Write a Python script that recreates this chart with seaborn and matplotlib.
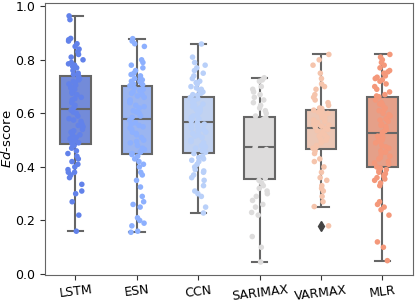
import numpy as np
import pandas as pd
import matplotlib
matplotlib.use("Agg")
import matplotlib.pyplot as plt
import seaborn as sns

# 모델 이름
models = ['LSTM', 'ESN', 'CCN', 'SARIMAX', 'VARMAX', 'MLR']

# 모델별 Ed-score
lstm = [0.16, 0.22, 0.27, 0.30, 0.31, 0.335, 0.36, 0.37, 0.38, 0.38, 0.39, 0.40, 0.41, 0.42, 0.43, 0.44, 0.45, 0.46, 0.47, 0.48,
        0.487, 0.49, 0.50, 0.505, 0.51, 0.52, 0.52, 0.53, 0.535, 0.54, 0.55, 0.555, 0.56, 0.57, 0.575, 0.58, 0.59, 0.60, 0.605, 0.612,
        0.622, 0.63, 0.64, 0.65, 0.655, 0.66, 0.67, 0.675, 0.68, 0.69, 0.695, 0.70, 0.705, 0.71, 0.715, 0.72, 0.725, 0.73, 0.735, 0.74,
        0.745, 0.75, 0.76, 0.77, 0.775, 0.78, 0.785, 0.79, 0.80, 0.81, 0.82, 0.83, 0.84, 0.85, 0.86, 0.87, 0.875, 0.88, 0.95, 0.964]
esn = [0.156, 0.16, 0.18, 0.19, 0.20, 0.21, 0.25, 0.26, 0.27, 0.29, 0.325, 0.35, 0.37, 0.38, 0.40, 0.41, 0.42, 0.43, 0.44, 0.446,
       0.45, 0.455, 0.46, 0.465, 0.47, 0.48, 0.49, 0.495, 0.50, 0.51, 0.52, 0.525, 0.53, 0.54, 0.545, 0.55, 0.555, 0.56, 0.565, 0.575,
       0.585, 0.59, 0.60, 0.605, 0.61, 0.62, 0.625, 0.63, 0.64, 0.645, 0.65, 0.66, 0.665, 0.67, 0.675, 0.68, 0.685, 0.69, 0.695, 0.703,
       0.707, 0.71, 0.715, 0.72, 0.72, 0.725, 0.73, 0.73, 0.74, 0.745, 0.75, 0.76, 0.77, 0.78, 0.79, 0.80, 0.85, 0.86, 0.87, 0.879]
ccn = [0.228, 0.25, 0.29, 0.30, 0.31, 0.33, 0.35, 0.36, 0.37, 0.38, 0.385, 0.39, 0.40, 0.41, 0.42, 0.425, 0.43, 0.435, 0.44, 0.45,
       0.455, 0.46, 0.47, 0.475, 0.48, 0.49, 0.495, 0.50, 0.51, 0.515, 0.52, 0.525, 0.53, 0.535, 0.54, 0.545, 0.55, 0.555, 0.56, 0.565,
       0.571, 0.575, 0.58, 0.585, 0.59, 0.595, 0.60, 0.605, 0.61, 0.615, 0.62, 0.625, 0.63, 0.635, 0.64, 0.645, 0.65, 0.655, 0.658, 0.66,
       0.668, 0.67, 0.675, 0.68, 0.685, 0.69, 0.695, 0.70, 0.71, 0.715, 0.72, 0.73, 0.74, 0.75, 0.76, 0.77, 0.78, 0.79, 0.81, 0.859]
sarimax = [0.045, 0.10, 0.14, 0.22, 0.23, 0.25, 0.26, 0.275, 0.29, 0.30, 0.31, 0.32, 0.33, 0.34, 0.35,
           0.358, 0.37, 0.38, 0.39, 0.40, 0.41, 0.42, 0.43, 0.435, 0.44, 0.45, 0.455, 0.46, 0.465, 0.472,
           0.48, 0.49, 0.50, 0.51, 0.52, 0.53, 0.54, 0.545, 0.55, 0.56, 0.565, 0.57, 0.575, 0.58, 0.583,
           0.59, 0.60, 0.61, 0.62, 0.63, 0.64, 0.65, 0.66, 0.67, 0.68, 0.69, 0.70, 0.72, 0.725, 0.733]
varmax = [0.18, 0.252, 0.27, 0.29, 0.31, 0.32, 0.33, 0.35, 0.36, 0.38, 0.40, 0.42, 0.43, 0.45, 0.46,
          0.47, 0.475, 0.48, 0.49, 0.495, 0.50, 0.505, 0.51, 0.515, 0.52, 0.525, 0.53, 0.535, 0.54, 0.543,
          0.549, 0.552, 0.556, 0.56, 0.565, 0.57, 0.575, 0.58, 0.585, 0.59, 0.595, 0.60, 0.605, 0.609, 0.612,
          0.618, 0.62, 0.63, 0.64, 0.65, 0.66, 0.67, 0.69, 0.70, 0.71, 0.73, 0.75, 0.78, 0.80, 0.82]
mlr = [0.05, 0.10, 0.12, 0.22, 0.24, 0.25, 0.26, 0.27, 0.33, 0.34, 0.35, 0.355, 0.36, 0.365, 0.37, 0.375, 0.38, 0.385, 0.39, 0.395,
       0.40, 0.41, 0.415, 0.42, 0.43, 0.435, 0.44, 0.45, 0.455, 0.46, 0.47, 0.475, 0.48, 0.49, 0.495, 0.50, 0.505, 0.51, 0.515, 0.524,
       0.53, 0.535, 0.54, 0.55, 0.555, 0.56, 0.57, 0.575, 0.58, 0.59, 0.595, 0.60, 0.61, 0.615, 0.62, 0.63, 0.635, 0.64, 0.65, 0.662,
       0.665, 0.67, 0.68, 0.69, 0.70, 0.71, 0.72, 0.725, 0.73, 0.735, 0.74, 0.75, 0.755, 0.76, 0.77, 0.78, 0.79, 0.80, 0.81, 0.82]

# --- 데이터 가공 (long form) ---
scores = [lstm, esn, ccn, sarimax, varmax, mlr]
df = pd.DataFrame({
    'model': np.repeat(models, [len(s) for s in scores]),
    'score': np.concatenate(scores),
})

# --- 시각화 ---
np.random.seed(3)  # stripplot jitter 고정
palette = sns.color_palette("coolwarm", 7)[:6]

plt.rcParams['axes.edgecolor'] = '#666666'
fig, ax = plt.subplots(figsize=(4.15, 3.04), dpi=100)
sns.boxplot(data=df, x='model', y='score', hue='model', palette=palette, order=models,
            width=0.5, linecolor='#666666', linewidth=1.5, legend=False,
            flierprops=dict(marker='d', markerfacecolor='#444444', markeredgecolor='#444444', markersize=5),
            ax=ax)
sns.stripplot(data=df, x='model', y='score', hue='model', palette=palette, order=models,
              jitter=0.13, size=4, legend=False, ax=ax)

ax.set_ylim(-0.004, 1.012)
ax.set_xlabel('')
ax.set_ylabel(r'$Ed$-score', fontsize=9.5, labelpad=1)
ax.tick_params(axis='both', labelsize=9, color='#333333')
ax.tick_params(axis='x', pad=2.5)
plt.setp(ax.get_xticklabels(), rotation=7)

fig.subplots_adjust(left=0.108, right=0.995, top=0.99, bottom=0.095)
fig.savefig('out.png', dpi=100)
